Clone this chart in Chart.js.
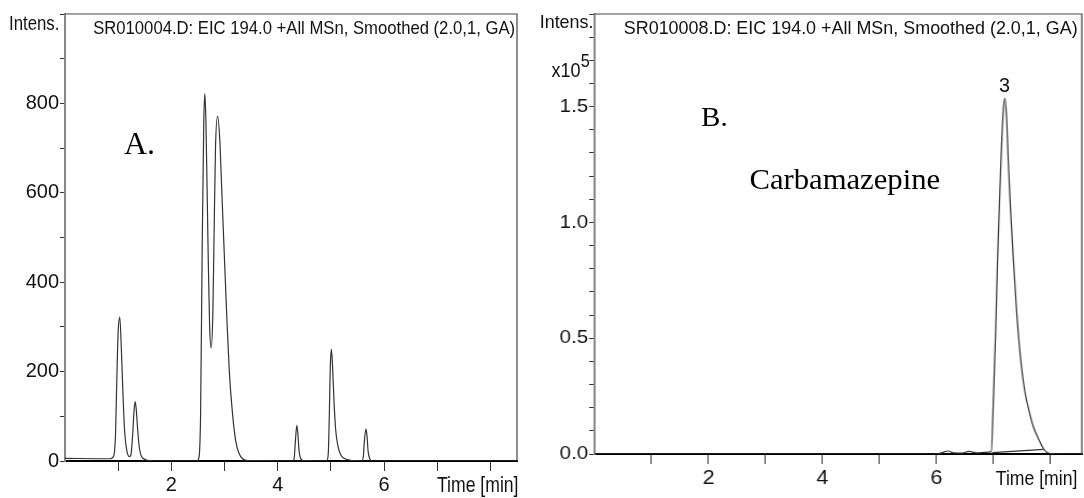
<!DOCTYPE html>
<html lang="en">
<head>
  <meta charset="UTF-8">
  <title>EIC 194.0 chromatograms</title>
  <script src="https://cdn.jsdelivr.net/npm/chart.js"></script>
  <style>
    body { margin: 0; background: #fff; }
    #wrap { position: relative; width: 1084px; height: 498px; overflow: hidden; }
    .panel { position: absolute; top: 0; height: 498px; }
    #panelA { left: 0; width: 530px; }
    #panelB { left: 530px; width: 515px; transform: scaleX(1.0757); transform-origin: 0 0; }
    canvas { position: absolute; left: 0; top: 0; }
    /* narrow sans look: Liberation Sans squeezed horizontally */
    .t { position: absolute; white-space: nowrap; line-height: 1; color: #111;
         font-family: "Liberation Sans", Arial, sans-serif; font-size: 19px;
         transform: scaleX(0.877); transform-origin: left top; }
    .t.r { transform-origin: right top; }
    .serif { font-family: "Liberation Serif", "Times New Roman", serif; color: #000; transform: none; }
  </style>
</head>
<body>
<div id="wrap">
  <div class="panel" id="panelA">
    <canvas id="chartA" width="530" height="498" style="width:530px;height:498px"></canvas>
    <span class="t" style="left:9px; top:13px; font-size:20px; transform: scaleX(0.84);">Intens.</span>
    <span class="t r" style="right:15px; top:18px;">SR010004.D: EIC 194.0 +All MSn, Smoothed (2.0,1, GA)</span>
    <span class="t serif" style="left:124px; top:127px; font-size:32px;">A.</span>
    <span class="t" style="left:437px; top:474px; font-size:22px; transform: scaleX(0.8);">Time [min]</span>
  </div>
  <div class="panel" id="panelB">
    <canvas id="chartB" width="515" height="498" style="width:515px;height:498px"></canvas>
    <span class="t" style="left:9px; top:12px;">Intens.</span>
    <span class="t" style="left:20px; top:52px; font-size:20px; transform: scaleX(0.84);">x10<sup style="font-size:18px; vertical-align:10px;">5</sup></span>
    <span class="t r" style="right:6px; top:18px;">SR010008.D: EIC 194.0 +All MSn, Smoothed (2.0,1, GA)</span>
    <span class="t" style="left:436px; top:74px; font-size:21px;">3</span>
    <span class="t serif" style="left:159px; top:104px; font-size:27px;">B.</span>
    <span class="t serif" style="left:204px; top:166px; font-size:28.5px;">Carbamazepine</span>
    <span class="t" style="left:433px; top:467px; font-size:21px; transform: scaleX(0.78);">Time [min]</span>
  </div>
</div>

<script>
  // Panel A: EIC trace, intensity in counts
  const timeA = [0.00, 0.85, 0.90, 0.93, 0.95, 0.97, 1.00, 1.03, 1.06, 1.09, 1.12, 1.16, 1.21, 1.24, 1.27, 1.30,
    1.32, 1.34, 1.37, 1.40, 1.44, 1.50, 1.58, 1.70, 2.48, 2.52, 2.55, 2.58, 2.61, 2.63, 2.65, 2.69, 2.72, 2.75,
    2.78, 2.80, 2.83, 2.87, 2.91, 2.95, 2.99, 3.04, 3.09, 3.15, 3.21, 3.27, 3.34, 3.45, 4.28, 4.31, 4.33, 4.36,
    4.38, 4.40, 4.43, 4.48, 4.92, 4.95, 4.97, 4.99, 5.01, 5.03, 5.06, 5.09, 5.13, 5.18, 5.25, 5.35, 5.58, 5.61,
    5.63, 5.66, 5.68, 5.70, 5.73, 5.78, 8.50];
  const intensA = [6, 5, 8, 20, 60, 160, 290, 322, 250, 150, 70, 25, 10, 14, 55, 115,
    133, 115, 65, 28, 10, 4, 1, 0, 0, 8, 106, 479, 760, 822, 760, 479, 300, 253,
    330, 479, 700, 771, 720, 600, 479, 330, 200, 106, 45, 18, 5, 1, 0, 6, 40, 80,
    60, 25, 6, 1, 0, 15, 100, 215, 250, 215, 130, 70, 35, 15, 6, 2, 0, 10,
    45, 72, 55, 22, 5, 0, 0];

  // Panel B: EIC trace, intensity x10^5
  const timeB = [0.00, 6.00, 6.10, 6.20, 6.30, 6.45, 6.57, 6.70, 6.85, 6.96, 7.00, 7.04, 7.07, 7.10, 7.13, 7.17,
    7.20, 7.23, 7.26, 7.30, 7.35, 7.41, 7.48, 7.55, 7.63, 7.71, 7.79, 7.86, 7.92, 8.00, 8.55];
  const intensB = [0.000, 0.000, 0.006, 0.013, 0.005, 0.004, 0.011, 0.005, 0.007, 0.010, 0.25, 0.55, 0.83, 1.05, 1.26, 1.48,
    1.536, 1.45, 1.26, 1.05, 0.83, 0.60, 0.40, 0.27, 0.18, 0.11, 0.065, 0.03, 0.01, 0.002, 0.000];
  // integration baseline under peak 3
  const baseTimeB = [6.98, 7.88];
  const baseIntensB = [0.006, 0.02];

  // ticks
  const xTickValues = [1, 2, 3, 4, 5, 6, 7, 8];
  const xTickLabels = [2, 4, 6];
  const yTicksA = [0, 100, 200, 300, 400, 500, 600, 700, 800, 900, 1000];
  const yLabelsA = [0, 200, 400, 600, 800];
  const yTicksB = [0, 0.1, 0.2, 0.3, 0.4, 0.5, 0.6, 0.7, 0.8, 0.9, 1.0, 1.1, 1.2, 1.3, 1.4, 1.5, 1.6, 1.7, 1.8, 1.9];
  const yLabelsB = [0, 0.5, 1.0, 1.5];

  const FONT = '"Liberation Sans", Arial, sans-serif';
  const toPts = (xs, ys) => xs.map((x, i) => ({ x: x, y: ys[i] }));

  // top + right frame of the plot box
  const boxPlugin = {
    id: 'box',
    afterDraw(c) {
      const { ctx, chartArea: a } = c;
      ctx.save();
      ctx.strokeStyle = '#444';
      ctx.lineWidth = 1.2;
      ctx.beginPath();
      ctx.moveTo(a.left, a.top);
      ctx.lineTo(a.right, a.top);
      ctx.lineTo(a.right, a.bottom);
      ctx.stroke();
      ctx.restore();
    }
  };

  function makeChart(id, datasets, cfg) {
    return new Chart(document.getElementById(id), {
      type: 'scatter',
      data: { datasets: datasets },
      options: {
        responsive: false,
        animation: false,
        layout: { padding: cfg.padding },
        plugins: { legend: { display: false }, tooltip: { enabled: false } },
        elements: { point: { radius: 0 } },
        scales: {
          x: {
            type: 'linear', min: 0, max: cfg.xMax,
            afterBuildTicks: s => { s.ticks = xTickValues.map(v => ({ value: v })); },
            afterFit: s => { s.height = cfg.xHeight; s.paddingLeft = 0; s.paddingRight = 0; },
            ticks: {
              autoSkip: false, maxRotation: 0, padding: 2, color: '#111',
              font: { family: FONT, size: 20 },
              callback: v => xTickLabels.includes(v) ? String(v) : ''
            },
            grid: { drawOnChartArea: false, drawTicks: true, tickLength: 10, tickColor: '#333', tickWidth: 1 },
            border: { color: '#000', width: 2 }
          },
          y: {
            type: 'linear', min: 0, max: cfg.yMax,
            afterBuildTicks: s => { s.ticks = cfg.yTicks.map(v => ({ value: v })); },
            afterFit: s => { s.width = cfg.yWidth; s.paddingTop = 0; s.paddingBottom = 0; },
            ticks: {
              autoSkip: false, padding: 1, color: '#111',
              font: { family: FONT, size: cfg.yFont },
              callback: cfg.yLabel
            },
            grid: { drawOnChartArea: false, drawTicks: true, tickLength: 5, tickColor: '#333', tickWidth: 1 },
            border: { color: '#888', width: 2 }
          }
        }
      },
      plugins: [boxPlugin]
    });
  }

  const lineStyle = { showLine: true, borderColor: '#333', borderWidth: 1.2, cubicInterpolationMode: 'monotone', pointRadius: 0 };

  makeChart('chartA', [
    Object.assign({ data: toPts(timeA, intensA) }, lineStyle)
  ], {
    padding: { left: 0, top: 14, right: 13, bottom: 0 },
    xMax: 8.5, xHeight: 37, yWidth: 65, yMax: 1000, yTicks: yTicksA, yFont: 20,
    yLabel: v => yLabelsA.includes(v) ? String(v) : ''
  });

  makeChart('chartB', [
    Object.assign({ data: toPts(timeB, intensB) }, lineStyle),
    Object.assign({ data: toPts(baseTimeB, baseIntensB) }, lineStyle, { cubicInterpolationMode: 'default' })
  ], {
    padding: { left: 0, top: 14, right: 2, bottom: 0 },
    xMax: 8.55, xHeight: 44, yWidth: 60, yMax: 1.9, yTicks: yTicksB, yFont: 19,
    yLabel: v => yLabelsB.some(l => Math.abs(l - v) < 1e-6) ? v.toFixed(1) : ''
  });
</script>
</body>
</html>
